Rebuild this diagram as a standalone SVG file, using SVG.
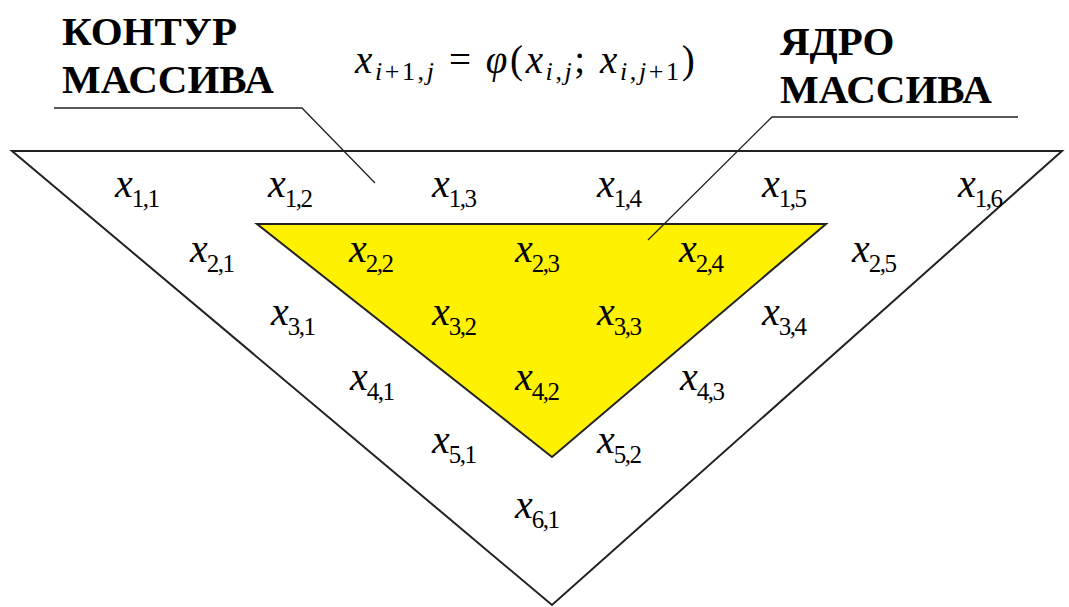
<svg xmlns="http://www.w3.org/2000/svg" width="1069" height="607" viewBox="0 0 1069 607">
<style>
.ln{fill:none;stroke:#222;stroke-width:2}
.thin{fill:none;stroke:#222;stroke-width:1.3}
.title{font-weight:bold;font-size:41px;fill:#000}
.cell{font-size:40px;fill:#000}
.v{font-style:italic}
.s{font-size:25px;letter-spacing:-1.5px}
.f{font-size:39px;fill:#000;letter-spacing:2.6px}
.fs{font-size:26px}
</style>
<rect width="1069" height="607" fill="#fff"/>
<g id="outer"><polygon class="ln" points="12,151 1062,151 552,605"/></g>
<g id="core"><polygon points="257,224 826,224 552,457" fill="#FFF200" stroke="#222" stroke-width="2"/></g>
<g id="label-contour" font-family="'Liberation Serif','Times New Roman',Times,serif">
<text class="title" x="62" y="45">КОНТУР</text>
<text class="title" x="62" y="93">МАССИВА</text>
</g>
<g id="label-core" font-family="'Liberation Serif','Times New Roman',Times,serif">
<text class="title" x="780" y="55">ЯДРО</text>
<text class="title" x="780" y="103">МАССИВА</text>
</g>
<g id="formula" font-family="'Liberation Serif','Times New Roman',Times,serif">
<text class="f" x="355" y="73"><tspan class="v">x</tspan><tspan class="fs v" dy="7">i</tspan><tspan class="fs">+1,</tspan><tspan class="fs v">j</tspan><tspan dy="-7"> = </tspan><tspan class="v">φ</tspan><tspan>(</tspan><tspan class="v">x</tspan><tspan class="fs v" dy="7">i</tspan><tspan class="fs">,</tspan><tspan class="fs v">j</tspan><tspan dy="-7">; </tspan><tspan class="v">x</tspan><tspan class="fs v" dy="7">i</tspan><tspan class="fs">,</tspan><tspan class="fs v">j</tspan><tspan class="fs">+1</tspan><tspan dy="-7">)</tspan></text>
</g>
<g id="connectors">
<polyline class="thin" points="54,108 302,108 375,183"/>
<polyline class="thin" points="1018,117 772,117 648,240"/>
</g>
<g id="cells" font-family="'Liberation Serif','Times New Roman',Times,serif">
<text class="cell" x="115" y="197"><tspan class="v">x</tspan><tspan class="s" dx="-1" dy="10">1,1</tspan></text>
<text class="cell" x="268" y="197"><tspan class="v">x</tspan><tspan class="s" dx="-1" dy="10">1,2</tspan></text>
<text class="cell" x="432" y="197"><tspan class="v">x</tspan><tspan class="s" dx="-1" dy="10">1,3</tspan></text>
<text class="cell" x="597" y="197"><tspan class="v">x</tspan><tspan class="s" dx="-1" dy="10">1,4</tspan></text>
<text class="cell" x="762" y="197"><tspan class="v">x</tspan><tspan class="s" dx="-1" dy="10">1,5</tspan></text>
<text class="cell" x="958" y="197"><tspan class="v">x</tspan><tspan class="s" dx="-1" dy="10">1,6</tspan></text>
<text class="cell" x="190" y="262"><tspan class="v">x</tspan><tspan class="s" dx="-1" dy="10">2,1</tspan></text>
<text class="cell" x="349" y="262"><tspan class="v">x</tspan><tspan class="s" dx="-1" dy="10">2,2</tspan></text>
<text class="cell" x="515" y="262"><tspan class="v">x</tspan><tspan class="s" dx="-1" dy="10">2,3</tspan></text>
<text class="cell" x="679" y="262"><tspan class="v">x</tspan><tspan class="s" dx="-1" dy="10">2,4</tspan></text>
<text class="cell" x="852" y="262"><tspan class="v">x</tspan><tspan class="s" dx="-1" dy="10">2,5</tspan></text>
<text class="cell" x="271" y="325"><tspan class="v">x</tspan><tspan class="s" dx="-1" dy="10">3,1</tspan></text>
<text class="cell" x="432" y="325"><tspan class="v">x</tspan><tspan class="s" dx="-1" dy="10">3,2</tspan></text>
<text class="cell" x="597" y="325"><tspan class="v">x</tspan><tspan class="s" dx="-1" dy="10">3,3</tspan></text>
<text class="cell" x="762" y="325"><tspan class="v">x</tspan><tspan class="s" dx="-1" dy="10">3,4</tspan></text>
<text class="cell" x="350" y="390"><tspan class="v">x</tspan><tspan class="s" dx="-1" dy="10">4,1</tspan></text>
<text class="cell" x="515" y="390"><tspan class="v">x</tspan><tspan class="s" dx="-1" dy="10">4,2</tspan></text>
<text class="cell" x="680" y="390"><tspan class="v">x</tspan><tspan class="s" dx="-1" dy="10">4,3</tspan></text>
<text class="cell" x="432" y="453"><tspan class="v">x</tspan><tspan class="s" dx="-1" dy="10">5,1</tspan></text>
<text class="cell" x="597" y="453"><tspan class="v">x</tspan><tspan class="s" dx="-1" dy="10">5,2</tspan></text>
<text class="cell" x="515" y="518"><tspan class="v">x</tspan><tspan class="s" dx="-1" dy="10">6,1</tspan></text>
</g>
</svg>
